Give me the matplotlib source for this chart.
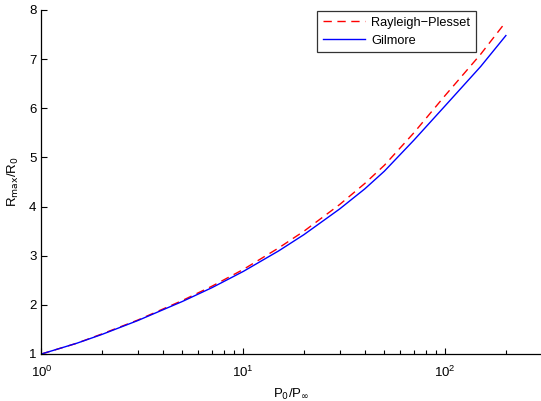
import matplotlib
matplotlib.use('Agg')
from matplotlib import pyplot as plt
from matplotlib.ticker import LogLocator, NullFormatter

# pressure ratio P0/Pinf
pressure_ratio = [1, 1.5, 2, 3, 5, 7, 10, 15, 20, 30, 40, 50, 70, 100, 150, 200]
# Rmax/R0 for the two models
rayleigh_plesset = [1.0, 1.22, 1.41, 1.69, 2.09, 2.38, 2.72, 3.16, 3.50, 4.04,
                    4.47, 4.84, 5.50, 6.26, 7.10, 7.76]
gilmore = [1.0, 1.22, 1.40, 1.68, 2.07, 2.35, 2.68, 3.10, 3.43, 3.95,
           4.36, 4.72, 5.35, 6.05, 6.85, 7.48]

plt.rcParams['font.family'] = ['Liberation Sans', 'DejaVu Sans']

fig = plt.figure(figsize=(5.41, 4.01), dpi=100)
ax = fig.add_axes([41.4 / 541, 47 / 401, 1 - 41.4 / 541, 344 / 401])

ax.plot(pressure_ratio, rayleigh_plesset, color='red', linestyle=(0, (6, 4)),
        linewidth=1.0, label='Rayleigh\u2212Plesset')
ax.plot(pressure_ratio, gilmore, color='blue', linewidth=1.0, label='Gilmore')

ax.set_xscale('log')
ax.set_xlim(1, 10 ** 2.475)
ax.set_ylim(1, 8)
ax.set_yticks(range(1, 9))
ax.xaxis.set_major_locator(LogLocator(base=10, numticks=10))
ax.xaxis.set_minor_locator(LogLocator(base=10, subs=range(2, 10), numticks=10))
ax.xaxis.set_minor_formatter(NullFormatter())

for side in ('top', 'right'):
    ax.spines[side].set_visible(False)
for side in ('left', 'bottom'):
    ax.spines[side].set_linewidth(0.9)
ax.tick_params(which='both', direction='in', labelsize=9.5, width=0.8,
               colors='black')
ax.tick_params(which='major', length=4.5)
ax.tick_params(which='minor', length=3)
ax.tick_params(axis='x', pad=8)

ax.set_xlabel(r'P$_0$/P$_\infty$', fontsize=9.5, labelpad=5)
ax.set_ylabel(r'R$_{\rm max}$/R$_0$', fontsize=9.5, labelpad=6)

leg = ax.legend(loc='upper left', bbox_to_anchor=(317 / 541, 1 - 11 / 401),
                bbox_transform=fig.transFigure, fontsize=9.2, frameon=True,
                fancybox=False, edgecolor='black', handlelength=3.3,
                borderpad=0.45, labelspacing=0.45, handletextpad=0.5,
                borderaxespad=0)
leg.get_frame().set_linewidth(0.9)

fig.savefig('out.png', dpi=100)
